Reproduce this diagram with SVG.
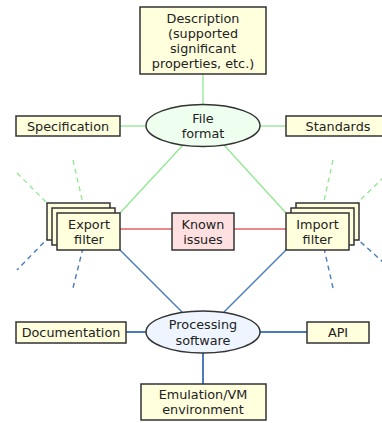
<svg xmlns="http://www.w3.org/2000/svg" width="382" height="423" viewBox="0 0 382 423">
<style>
text{font-family:"DejaVu Sans",Verdana,sans-serif;font-size:12.8px;fill:#222;text-anchor:middle}
.box{fill:#ffffdd;stroke:#333;stroke-width:1.5}
.g{stroke:#90e890;stroke-width:1.3;fill:none}
.b{stroke:#4a7cb8;stroke-width:1.4;fill:none}
.r{stroke:#e06060;stroke-width:1.4;fill:none}
.d{stroke-dasharray:5 4}
</style>
<rect width="382" height="423" fill="#fff"/>
<g id="connectors">
<line class="g" x1="203" y1="74" x2="203" y2="104"/>
<line class="g" x1="120" y1="126" x2="146" y2="126"/>
<line class="g" x1="260" y1="126" x2="286" y2="126"/>
<line class="g" x1="183" y1="145" x2="120" y2="213"/>
<line class="g" x1="224" y1="145" x2="286" y2="213"/>
<line class="r" x1="120" y1="229" x2="172" y2="229"/>
<line class="r" x1="234" y1="229" x2="286" y2="229"/>
<line class="b" x1="120" y1="250" x2="182" y2="312"/>
<line class="b" x1="286" y1="250" x2="224" y2="312"/>
<line class="b" x1="126" y1="332" x2="146" y2="332" style="stroke-width:2"/>
<line class="b" x1="260" y1="332" x2="307" y2="332" style="stroke-width:2"/>
<line class="b" x1="203" y1="353" x2="203" y2="384" style="stroke-width:2"/>
<line class="g d" x1="17" y1="173" x2="50" y2="206"/>
<line class="g d" x1="73" y1="160" x2="84" y2="208"/>
<line class="b d" x1="50" y1="236" x2="17" y2="270"/>
<line class="b d" x1="83" y1="248" x2="73" y2="288"/>
<line class="g d" x1="333" y1="160" x2="322" y2="210"/>
<line class="g d" x1="384" y1="177" x2="354" y2="206"/>
<line class="b d" x1="354" y1="236" x2="384" y2="263"/>
<line class="b d" x1="324" y1="248" x2="333" y2="288"/>
</g>
<g id="description">
<rect class="box" x="140" y="7" width="126" height="67"/>
<text x="203" y="23">Description</text>
<text x="203" y="38">(supported</text>
<text x="203" y="53">significant</text>
<text x="203" y="68">properties, etc.)</text>
</g>
<g id="specification">
<rect class="box" x="16" y="116" width="104" height="20"/>
<text x="68" y="131">Specification</text>
</g>
<g id="file-format">
<ellipse cx="203" cy="125.5" rx="57" ry="21" fill="#efffef" stroke="#333" stroke-width="1.5"/>
<text x="203" y="123">File</text>
<text x="203" y="138">format</text>
</g>
<g id="standards">
<rect class="box" x="286" y="116" width="104" height="20"/>
<text x="338" y="131">Standards</text>
</g>
<g id="export-filter">
<rect class="box" x="47" y="203" width="63" height="37"/>
<rect class="box" x="52" y="208" width="63" height="37"/>
<rect class="box" x="57" y="213" width="63" height="37"/>
<text x="89" y="229">Export</text>
<text x="89" y="244">filter</text>
</g>
<g id="known-issues">
<rect x="172" y="213" width="62" height="37" fill="#ffe0e0" stroke="#333" stroke-width="1.5"/>
<text x="203" y="229">Known</text>
<text x="203" y="244">issues</text>
</g>
<g id="import-filter">
<rect class="box" x="296" y="203" width="63" height="37"/>
<rect class="box" x="291" y="208" width="63" height="37"/>
<rect class="box" x="286" y="213" width="63" height="37"/>
<text x="317.5" y="229">Import</text>
<text x="317.5" y="244">filter</text>
</g>
<g id="processing-software">
<ellipse cx="203" cy="332" rx="57" ry="21" fill="#eef5ff" stroke="#333" stroke-width="1.5"/>
<text x="203" y="329">Processing</text>
<text x="203" y="345">software</text>
</g>
<g id="documentation">
<rect class="box" x="16" y="322" width="110" height="21"/>
<text x="71" y="337">Documentation</text>
</g>
<g id="api">
<rect class="box" x="307" y="322" width="62" height="21"/>
<text x="338" y="337">API</text>
</g>
<g id="emulation">
<rect class="box" x="141" y="384" width="125" height="36"/>
<text x="203" y="399">Emulation/VM</text>
<text x="203" y="414">environment</text>
</g>
</svg>
